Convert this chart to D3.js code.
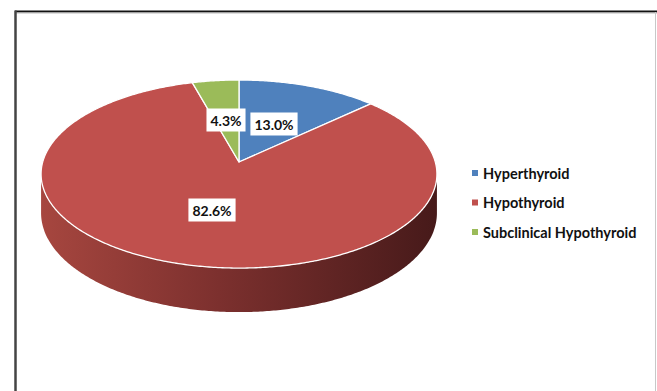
<!DOCTYPE html>
<html>
<head>
<meta charset="utf-8">
<script src="https://cdn.jsdelivr.net/npm/d3@7/dist/d3.min.js"></script>
<style>
  html, body { margin: 0; padding: 0; background: #fff; }
  svg { display: block; }
  text { font-family: Lato, "Open Sans", "Liberation Sans", sans-serif; font-weight: bold; }
</style>
</head>
<body>
<svg id="chart" width="657" height="391"></svg>
<script>
// Thyroid disorder distribution
const categories = ["Hyperthyroid", "Hypothyroid", "Subclinical Hypothyroid"];
const shares = [13.0, 82.6, 4.3];
const shareLabels = ["13.0%", "82.6%", "4.3%"];
const colors = ["#4F81BD", "#C0504D", "#9BBB59"];

const svg = d3.select("#chart");
const W = 657, H = 391;

// Frame
svg.append("line").attr("x1", 15).attr("x2", W).attr("y1", 11.5).attr("y2", 11.5)
  .attr("stroke", "#111").attr("stroke-width", 2);
svg.append("line").attr("x1", 15).attr("x2", W).attr("y1", 13).attr("y2", 13)
  .attr("stroke", "#bbb").attr("stroke-width", 1);
svg.append("line").attr("x1", 15.5).attr("x2", 15.5).attr("y1", 10.5).attr("y2", H)
  .attr("stroke", "#444").attr("stroke-width", 2.5);
svg.append("line").attr("x1", 655.5).attr("x2", 655.5).attr("y1", 12).attr("y2", H)
  .attr("stroke", "#c8c8c8").attr("stroke-width", 1);

// 3D pie: disc seen from above in perspective (back smaller than front)
const cx = 239, cy = 162, R = 196.3, ryR = 92.5, thick = 38.4, persp = 0.128;
const px = d3.scaleLinear().domain([-1, 1]).range([cx - R, cx + R]);
const py = d3.scaleLinear().domain([-1, 1]).range([cy - ryR, cy + ryR]);
const scaleAt = z => 1 / (1 - persp * z);          // z: -1 back, +1 front
function pt(a, dropped = false) {
  const X = Math.sin(a), Z = -Math.cos(a), s = scaleAt(Z);
  return [px(X * s), py(Z * s) + (dropped ? thick * s : 0)];
}

const pie = d3.pie().sort(null).value(d => d)(shares);
const line = d3.line();

function arcPoints(a0, a1, dropped = false) {
  const n = Math.max(2, Math.ceil(Math.abs(a1 - a0) / 0.01));
  return d3.range(n + 1).map(i => pt(a0 + (a1 - a0) * i / n, dropped));
}

// Side wall gradient
const defs = svg.append("defs");
const grad = defs.append("linearGradient").attr("id", "sideGrad")
  .attr("gradientUnits", "userSpaceOnUse")
  .attr("x1", cx - R).attr("x2", cx + R).attr("y1", 0).attr("y2", 0);
grad.append("stop").attr("offset", 0).attr("stop-color", "#a6463f");
grad.append("stop").attr("offset", 0.45).attr("stop-color", "#7c302e");
grad.append("stop").attr("offset", 1).attr("stop-color", "#471a1a");

// Visible front arc runs between the silhouette extremes
const aMin = Math.acos(-persp), aMax = 2 * Math.PI - aMin;
pie.forEach((d, i) => {
  const a0 = Math.max(d.startAngle, aMin);
  const a1 = Math.min(d.endAngle, aMax);
  if (a1 <= a0) return;
  const top = arcPoints(a0, a1);
  const bottom = arcPoints(a1, a0, true);
  svg.append("path")
    .attr("d", line(top.concat(bottom)) + "Z")
    .attr("fill", i === 1 ? "url(#sideGrad)" : d3.color(colors[i]).darker(1.2))
    .attr("stroke", "none");
});

// Top faces
pie.forEach((d, i) => {
  const pts = [[cx, cy]].concat(arcPoints(d.startAngle, d.endAngle));
  svg.append("path")
    .attr("d", line(pts) + "Z")
    .attr("fill", colors[i])
    .attr("stroke", "#fff")
    .attr("stroke-width", 1.3)
    .attr("stroke-linejoin", "round");
});

// Data labels
const labelPos = [[274, 124], [212, 210], [226, 120]];
pie.forEach((d, i) => {
  const g = svg.append("g");
  const t = g.append("text")
    .attr("x", labelPos[i][0]).attr("y", labelPos[i][1])
    .attr("text-anchor", "middle").attr("dominant-baseline", "central")
    .attr("font-size", 14).attr("fill", "#111")
    .text(shareLabels[i]);
  const bb = t.node().getBBox();
  g.insert("rect", "text")
    .attr("x", bb.x - 4).attr("y", bb.y - 3)
    .attr("width", bb.width + 8).attr("height", bb.height + 6)
    .attr("fill", "#fff");
});

// Legend
const legend = svg.append("g");
categories.forEach((c, i) => {
  const y = 173 + i * 29.5;
  legend.append("rect").attr("x", 472).attr("y", y - 3).attr("width", 6).attr("height", 6)
    .attr("fill", colors[i]);
  legend.append("text").attr("x", 483).attr("y", y)
    .attr("dominant-baseline", "central").attr("font-size", 14.5).attr("fill", "#111")
    .text(c);
});
</script>
</body>
</html>
